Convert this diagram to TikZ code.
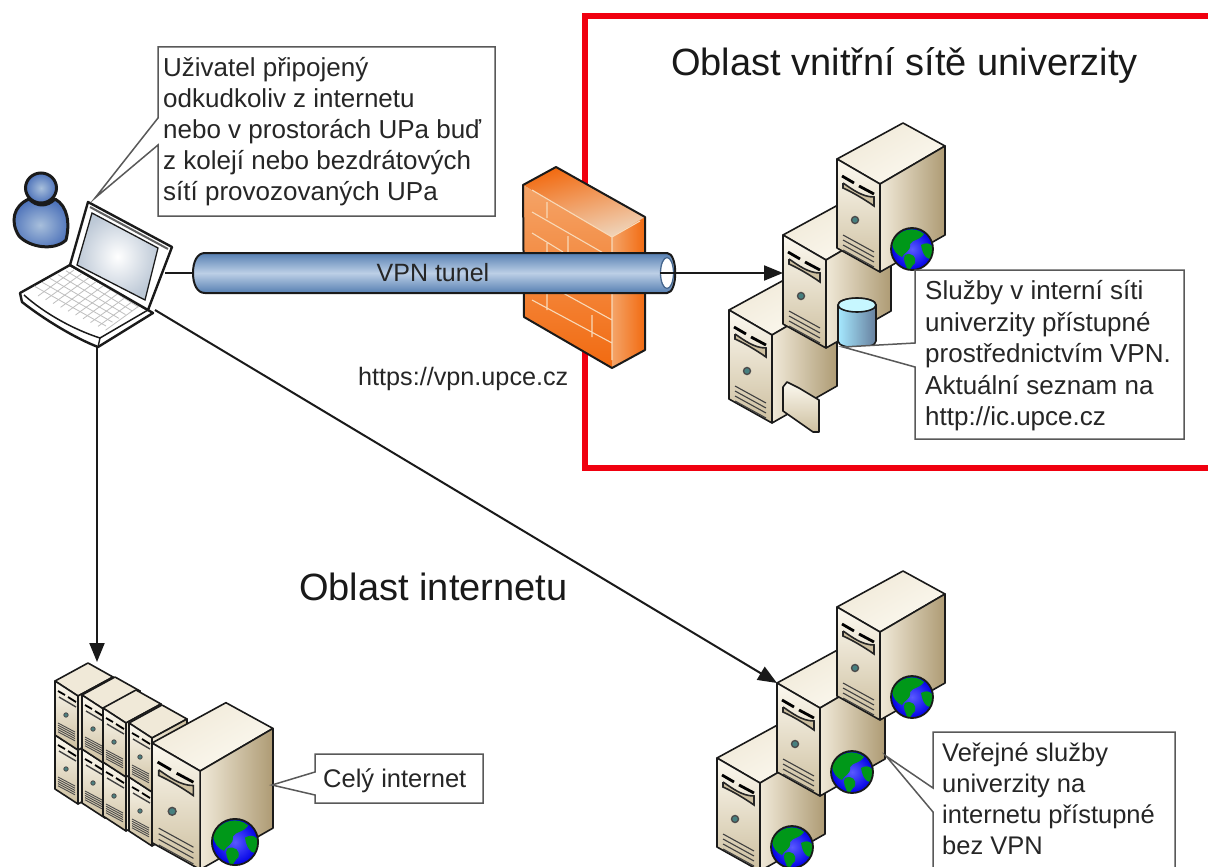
\documentclass[tikz,border=0pt]{standalone}
\usepackage{fontspec}
\setmainfont{Liberation Sans}
\usetikzlibrary{arrows.meta}
\definecolor{ink}{HTML}{1A1A1A}
\definecolor{cream}{HTML}{FCF9F0}
\definecolor{tanA}{HTML}{F0E9D8}
\definecolor{tanB}{HTML}{AE9B74}
\definecolor{tanC}{HTML}{CDBF9F}
\definecolor{redframe}{HTML}{F0000F}
\definecolor{tubeD}{HTML}{567FB2}
\definecolor{tubeL}{HTML}{BCCFE6}
\definecolor{fwA}{HTML}{F26A10}
\definecolor{fwB}{HTML}{F4A468}
\definecolor{fwC}{HTML}{EFD4BA}
\definecolor{brickc}{HTML}{F8D9B8}
\tikzset{
 x=1pt,y=-1pt,
 edge/.style={draw=ink,line width=1.6pt,line join=round},
 conn/.style={draw=ink,line width=2pt},
 arrowed/.style={conn,-{Triangle[length=19pt,width=15pt]}},
 callout/.style={draw=black!65,fill=white,line width=1.5pt,line join=miter},
 lbl/.style={font=\fontsize{26}{30.8}\selectfont,text=black!85,align=left,anchor=north west,inner sep=0pt},
 lblb/.style={font=\fontsize{25.5}{31}\selectfont,text=black!85,align=left,anchor=north west,inner sep=0pt},
 keyl/.style={draw=black!25,line width=.8pt},
 brick/.style={draw=brickc,line width=1.1pt},
 tip/.style={inner sep=0pt,minimum size=1pt},
 pics/server/.style={code={
  \path[edge,left color=tanA,right color=cream,shading angle=30] (0,0)--(66,-36)--(108,-13)--(43,25)--cycle;
  \path[edge,left color=tanA,right color=tanB] (43,25)--(108,-13)--(108,76)--(43,113)--cycle;
  \path[edge,top color=cream,bottom color=tanC] (0,0)--(43,25)--(43,113)--(0,89)--cycle;
  \draw[black,line width=2.8pt] (5,17)--(17,24) (22,27)--(37,35);
  \draw[black!85,line width=1.6pt,fill=tanC] (6,24)--(6,29) .. controls (15,33) and (27,40) .. (37,47)--(37,38) .. controls (25,38) and (15,30) .. (6,24);
  \draw[black!70,fill=teal!45!gray,line width=1.4pt] (18,61) circle (3.5);
  \foreach \d in {0,5,10,15} \draw[black!75,line width=1.1pt] (6,76+\d)--(37,93+\d);
 }},
 pics/blade/.style={code={
  \path[edge,fill=tanA] (0,0)--(33,-18)--(58,-4)--(23,15)--cycle;
  \path[edge,left color=tanA,right color=tanC] (23,15)--(58,-4)--(58,50)--(23,69)--cycle;
  \path[edge,top color=cream,bottom color=tanC] (0,0)--(23,15)--(23,69)--(0,54)--cycle;
  \draw[black,line width=1.8pt] (3,10)--(10,14) (13,16)--(21,21);
  \draw[black!75,line width=1.4pt] (4,16)--(21,26);
  \draw[black!70,fill=teal!40!gray,line width=.8pt] (11,34) circle (2.2);
  \foreach \d in {0,2.2,4.4,6.6,8.8} \draw[black!70,line width=.9pt] (3,42+\d)--(20,51+\d);
 }},
 pics/globe/.style={code={
  \shade[inner color=blue!65!white,outer color=blue!90!black] (0,0) circle (21);
  \begin{scope}
   \clip (0,0) circle (21);
   \fill[green!55!black!90!cyan] (-20,-6) .. controls (-13,-21) and (3,-23) .. (12,-15) .. controls (7,-8) and (1,-10) .. (-2,-5) .. controls (-1,3) and (-8,3) .. (-10,8) .. controls (-15,6) and (-19,2) .. (-20,-6) -- cycle;
   \fill[green!55!black!90!cyan] (9,-4) .. controls (18,-9) and (23,-2) .. (22,7) .. controls (18,13) and (11,9) .. (9,-4) -- cycle;
   \fill[green!55!black!90!cyan] (-7,6) .. controls (0,3) and (5,8) .. (3,14) .. controls (0,16) and (-2,22) .. (-4,22) .. controls (-6,16) and (-10,10) .. (-7,6) -- cycle;
  \end{scope}
  \draw[ink,line width=1.8pt] (0,0) circle (21);
 }}
}
\begin{document}
\begin{tikzpicture}
\useasboundingbox (0,0) rectangle (1208,867);
\clip (0,0) rectangle (1208,867);
\fill[white] (0,0) rectangle (1208,867);

% red frame
\draw[redframe,line width=6pt] (1212,16) -- (585,16) -- (585,468) -- (1212,468);

% firewall
\path[left color=fwA,right color=fwC,shading angle=15] (523,185)--(556,167)--(645,217)--(612,237)--cycle;
\path[top color=fwB,bottom color=fwA] (523,185)--(612,237)--(612,368)--(524,317)--cycle;
\path[left color=fwB,right color=fwA] (612,237)--(645,217)--(645,350)--(612,368)--cycle;
\draw[brick] (532,190)--(612,237)--(640,221) (532,212)--(612,258) (532,233)--(563,252) (532,300)--(612,343) (563,293)--(612,320)
 (547,202)--(547,218) (568,236)--(568,252) (547,243)--(547,310) (592,315)--(592,337) (612,237)--(612,360);
\draw[ink,line width=2pt,line join=round] (523,185)--(556,167)--(645,217)--(645,350)--(612,368)--(524,317)--cycle;

% servers - internal network
\path (729,310) pic {server};
\path (783,235) pic {server};
\path (837,159) pic {server};
\path (912,249) pic {globe};

% tunnel
\coordinate (laptopR) at (165,273);
\coordinate (tunnelL) at (193,273);
\coordinate (tunnelIn) at (660,273);
\path[edge,line width=2pt,top color=tubeD,bottom color=tubeD,middle color=tubeL] (205,253) -- (667,253) .. controls (678,253) and (678,293) .. (667,293) -- (205,293) .. controls (197,293) and (193,284) .. (193,273) .. controls (193,262) and (197,253) .. (205,253) -- cycle;
\draw[draw=tubeD!80!black,line width=1.3pt,fill=white] (667,273) ellipse (6.5 and 15.5);
\node[font=\fontsize{25}{28}\selectfont,text=black!85] (vpn) at (433,273) {VPN tunel};

% database
\path[edge,left color=blue!25!cyan!35!white,right color=tubeD!60!gray] (838,305)--(838,341) .. controls (838,350) and (876,350) .. (876,341) -- (876,305) .. controls (876,296) and (838,296) .. (838,305) -- cycle;
\draw[edge,fill=blue!15!cyan!22!white] (857,305) ellipse (19 and 7);

% folder
\path[edge,top color=cream,bottom color=tanC] (783,387)--(787,382)--(799,388)--(819,400)--(819,432)--(813,432)--(783,411)--cycle;

% internal callout
\node[tip] (dbtip) at (843,347) {};
\draw[callout] (dbtip.center)--(915,343)--(915,270)--(1184,270)--(1184,439)--(915,439)--(915,367)--cycle;
\node[lbl,font=\fontsize{26}{31.5}\selectfont] (svc) at (925,280.5) {Služby v interní síti\\univerzity přístupné\\prostřednictvím VPN.\\Aktuální seznam na\\http://ic.upce.cz};

% person
\path[draw=ink,line width=3pt,line join=round,inner color=tubeL!80!tubeD,outer color=tubeD!90!blue]
 (19,236) .. controls (10,222) and (13,206) .. (29,199) .. controls (37,207) and (47,207) .. (55,199) .. controls (68,206) and (70,224) .. (66,240) .. controls (55,251) and (30,248) .. (19,236) -- cycle;
\path[draw=ink,line width=3pt,inner color=tubeL!80!tubeD,outer color=tubeD!90!blue] (41,188) ellipse (15.5 and 15);

% laptop
\path[edge,line width=2.4pt,fill=white] (70,265)--(20,293)--(22,302) .. controls (45,320) and (75,338) .. (98,347)--(153,313)--(148,310)--cycle;
\draw[ink,line width=1.5pt] (24,295) .. controls (45,314) and (75,330) .. (100,338) -- (148,310);
\draw[ink,line width=1.4pt] (100,338)--(98,347);
\foreach \i in {0,...,5}{
 \draw[keyl] ({34+\i*8},{286-\i*3.8})--({106+\i*6.5},{326-\i*3.8});
}
\foreach \i in {0,...,9}{
 \draw[keyl] ({38+\i*7.5},{296+\i*3.8})--({74+\i*7.5},{270+\i*3.8});
}
\path[edge,line width=2.4pt,fill=white] (88,202)--(172,247)--(148,310)--(70,265)--cycle;
\draw[ink!70,line width=2pt] (90,207)--(168,249);
\path[draw=ink,line width=1.3pt,inner color=white,outer color=tubeL!75!gray!80!white] (92,213)--(158,248)--(145,300)--(77,265)--cycle;

% callout user
\node[tip] (usertip) at (95,198) {};
\draw[callout] (usertip.center)--(158,118)--(158,47)--(495,47)--(495,216)--(158,216)--(158,145)--cycle;
\node[lbl] (user) at (163,57.5) {Uživatel připojený\\odkudkoliv z internetu\\nebo v prostorách UPa buď\\z kolejí nebo bezdrátových\\sítí provozovaných UPa};

% titles
\node[font=\fontsize{38}{42}\selectfont,text=black!90,anchor=base west,inner sep=0pt] (t1) at (671,75) {Oblast vnitřní sítě univerzity};
\node[font=\fontsize{38}{42}\selectfont,text=black!90,anchor=base west,inner sep=0pt] (t2) at (299,600) {Oblast internetu};
\node[font=\fontsize{25.2}{28}\selectfont,text=black!85,anchor=base west,inner sep=0pt] (url) at (358,385) {https://vpn.upce.cz};

% blades
\foreach \cx/\cy in {55/681,82/695,103/708,129/723}{
 \path (\cx,\cy+54) pic {blade};
 \path (\cx,\cy) pic {blade};
}
% big server
\path (152,743) pic[scale=1.12] {server};
\path (235,842) pic[scale=1.1] {globe};

% public servers
\path (717,758) pic {server};
\path (792,847) pic {globe};
\path (777,683) pic {server};
\path (852,772) pic {globe};
\path (837,607) pic {server};
\path (912,697) pic {globe};

% callouts
\node[tip] (pubtip) at (886,756) {};
\draw[callout] (pubtip.center)--(933,788)--(933,732)--(1175,732)--(1175,880)--(933,880)--(933,812)--cycle;
\node[lblb] (pub) at (942,743) {Veřejné služby\\univerzity na\\internetu přístupné\\bez VPN};
\node[tip] (wholetip) at (272,785) {};
\draw[callout] (wholetip.center)--(315,772)--(315,754)--(483,754)--(483,803)--(315,803)--(315,795)--cycle;
\node[lblb,anchor=west] (whole) at (323,781) {Celý internet};

% connectors
\coordinate (srvIn) at (783,273);
\coordinate (laptopB) at (97,347);
\coordinate (laptopD) at (155,310);
\coordinate (bladeTop) at (97,662);
\coordinate (pubIn) at (777,683);
\draw[conn] (laptopR)--(tunnelL);
\draw[arrowed] (tunnelIn)--(srvIn);
\draw[arrowed] (laptopB)--(bladeTop);
\draw[arrowed] (laptopD)--(pubIn);
\end{tikzpicture}
\end{document}
